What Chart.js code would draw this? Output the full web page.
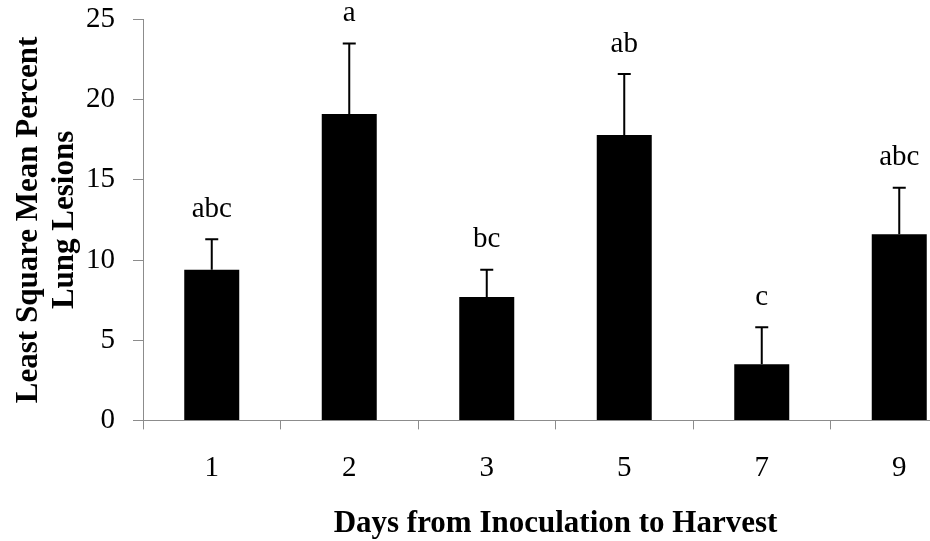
<!DOCTYPE html>
<html>
<head>
<meta charset="utf-8">
<script src="https://cdn.jsdelivr.net/npm/chart.js@4"></script>
<style>
  html, body { margin: 0; padding: 0; background: #fff; overflow: hidden; }
  #wrap { width: 930px; height: 541px; overflow: hidden; }
</style>
</head>
<body>
<div id="wrap">
  <canvas id="myChart" width="975" height="541"></canvas>
</div>
<script>
const days = ["1", "2", "3", "5", "7", "9"];
const lsMeans = [9.4, 19.1, 7.7, 17.8, 3.5, 11.6];
const stdErr = [1.9, 4.4, 1.7, 3.8, 2.3, 2.9];
const letters = ["abc", "a", "bc", "ab", "c", "abc"];

const serif = "'Liberation Serif', 'Times New Roman', serif";
const axisGray = "#8c8c8c";

// error bars + significance letters on top of each bar
const errorBarsPlugin = {
  id: "errorBars",
  afterDatasetsDraw: (chart) => {
    const ctx = chart.ctx;
    const xs = chart.scales.x;
    const ys = chart.scales.y;
    ctx.save();
    ctx.strokeStyle = "#000";
    ctx.lineWidth = 2;
    lsMeans.forEach((m, i) => {
      const x = xs.getPixelForValue(i);
      const y0 = ys.getPixelForValue(m);
      const y1 = ys.getPixelForValue(m + stdErr[i]);
      ctx.beginPath();
      ctx.moveTo(x, y0);
      ctx.lineTo(x, y1);
      ctx.moveTo(x - 6.5, y1);
      ctx.lineTo(x + 6.5, y1);
      ctx.stroke();
      ctx.fillStyle = "#000";
      ctx.font = "29px " + serif;
      ctx.textAlign = "center";
      ctx.textBaseline = "middle";
      ctx.fillText(letters[i], x, y1 - 30);
    });
    ctx.restore();
  },
};

const config = {
  type: "bar",
  data: {
    labels: days,
    datasets: [
      {
        data: lsMeans,
        backgroundColor: "#000",
        borderWidth: 0,
        barPercentage: 0.4,
        categoryPercentage: 1,
      },
    ],
  },
  options: {
    responsive: false,
    devicePixelRatio: 1,
    animation: false,
    layout: { padding: { left: 11, top: 0, right: 7, bottom: 0 } },
    plugins: { legend: { display: false }, tooltip: { enabled: false } },
    scales: {
      x: {
        grid: { offset: true, drawOnChartArea: false, color: axisGray, tickLength: 9 },
        border: { color: axisGray, width: 1 },
        ticks: { color: "#000", font: { family: serif, size: 29, lineHeight: 0.88 }, padding: 26 },
        title: {
          display: true,
          text: "Days from Inoculation to Harvest",
          color: "#000",
          font: { family: serif, size: 31, weight: "bold", lineHeight: 1.1 },
          padding: { top: 0, bottom: 0 },
        },
      },
      y: {
        min: 0,
        max: 25,
        afterFit: (scale) => {
          scale.width = 132;
        },
        ticks: { stepSize: 5, color: "#000", font: { family: serif, size: 29, lineHeight: 0.1 }, padding: 18 },
        grid: { drawOnChartArea: false, color: axisGray, tickLength: 10 },
        border: { color: axisGray, width: 1 },
        title: {
          display: true,
          text: ["Least Square Mean Percent", "Lung Lesions"],
          color: "#000",
          font: { family: serif, size: 31, weight: "bold", lineHeight: 1.17 },
          padding: { top: 0, bottom: 2 },
        },
      },
    },
  },
  plugins: [errorBarsPlugin],
};

const myChart = new Chart(document.getElementById("myChart"), config);
</script>
</body>
</html>
